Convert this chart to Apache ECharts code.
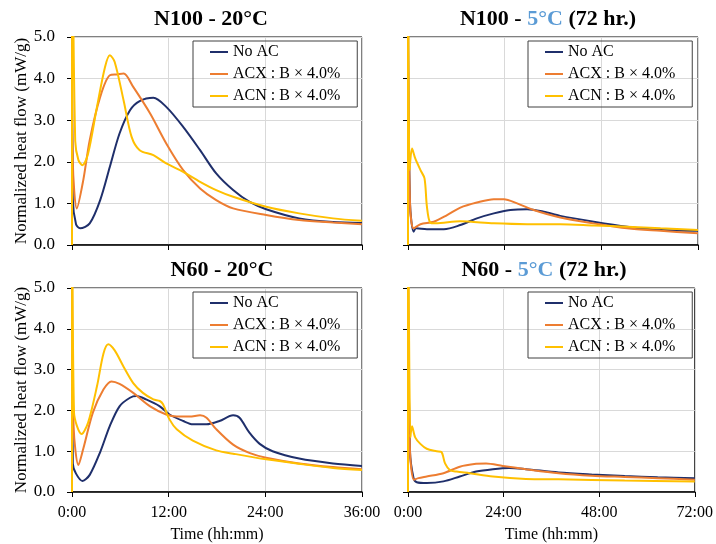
<!DOCTYPE html>
<html lang="en">
<head>
<meta charset="UTF-8">
<title>Normalized heat flow</title>
<style>
  html, body { margin: 0; padding: 0; background: #fff; }
  #main { width: 716px; height: 544px; }
</style>
</head>
<body>
<div id="main"></div>
<script src="https://cdn.jsdelivr.net/npm/echarts@6/dist/echarts.min.js"></script>
<script>
// series names and colours
var seriesNames = ['No AC', 'ACX : B \u00d7 4.0%', 'ACN : B \u00d7 4.0%'];
var seriesColors = ['#1f2f6b', '#ed7d31', '#ffc000'];
var panelTitles = ['N100 - 20\u00b0C', 'N100 - {b|5\u00b0C} (72 hr.)', 'N60 - 20\u00b0C', 'N60 - {b|5\u00b0C} (72 hr.)'];
var xMaxHours = [36, 72, 36, 72];
var xStepHours = [12, 24, 12, 24];
var yTicks = [0, 1, 2, 3, 4, 5];

// N100 - 20°C
var n100w_noac_t = [0, 0.1, 0.5, 1.0, 2.2, 3.5, 4.7, 5.9, 7.2, 8.4, 10.1, 11.7, 13.8, 15.9, 17.9, 20.0, 22.0, 24.1, 28.2, 32.4, 36];
var n100w_noac_v = [5.5, 1.1, 0.5, 0.40, 0.52, 1.08, 1.88, 2.68, 3.24, 3.46, 3.54, 3.32, 2.84, 2.28, 1.72, 1.32, 1.04, 0.86, 0.64, 0.55, 0.53];
var n100w_acx_t = [0, 0.1, 0.6, 1.4, 2.2, 3.5, 4.7, 5.6, 6.4, 7.6, 9.7, 11.7, 13.8, 15.9, 17.9, 20.0, 24.1, 28.2, 32.4, 36];
var n100w_acx_v = [5.5, 2.0, 0.88, 1.56, 2.52, 3.56, 4.08, 4.10, 4.12, 3.80, 3.16, 2.44, 1.80, 1.36, 1.08, 0.88, 0.72, 0.60, 0.54, 0.50];
var n100w_acn_t = [0, 0.02, 0.4, 0.8, 1.3, 2.0, 3.1, 4.1, 4.7, 5.3, 6.4, 7.4, 8.4, 10.1, 11.7, 13.8, 15.9, 17.9, 20.0, 24.1, 28.2, 32.4, 36];
var n100w_acn_v = [0, 8, 2.5, 2.04, 1.92, 2.2, 3.32, 4.28, 4.56, 4.40, 3.48, 2.60, 2.28, 2.16, 1.96, 1.76, 1.52, 1.32, 1.16, 0.92, 0.76, 0.64, 0.58];

// N100 - 5°C
var n100c_noac_t = [0, 0.5, 1.4, 2.0, 4.7, 8.9, 13, 17.1, 21.3, 25.4, 29.6, 33.7, 37.8, 46.1, 54.4, 62.7, 72];
var n100c_noac_v = [5.5, 1.0, 0.32, 0.40, 0.38, 0.38, 0.48, 0.64, 0.76, 0.84, 0.86, 0.80, 0.70, 0.56, 0.44, 0.36, 0.34];
var n100c_acx_t = [0, 0.5, 1.4, 3.1, 6.4, 9.7, 13, 17.1, 21.3, 23.8, 27.1, 31.2, 37.8, 46.1, 54.4, 62.7, 72];
var n100c_acx_v = [5.5, 1.0, 0.40, 0.50, 0.56, 0.72, 0.90, 1.02, 1.10, 1.10, 1.00, 0.84, 0.66, 0.52, 0.40, 0.34, 0.28];
var n100c_acn_t = [0, 0.02, 0.4, 1.0, 1.8, 3.1, 4.1, 4.7, 5.5, 6.8, 13, 21.3, 29.6, 37.8, 46.1, 54.4, 62.7, 72];
var n100c_acn_v = [0, 8, 1.8, 2.32, 2.08, 1.80, 1.60, 0.92, 0.54, 0.52, 0.57, 0.52, 0.50, 0.50, 0.47, 0.44, 0.40, 0.36];

// N60 - 20°C
var n60w_noac_t = [0, 0.1, 0.5, 1.3, 2.2, 3.5, 4.7, 5.9, 7.2, 8.0, 9.2, 10.9, 12.1, 13.8, 15.0, 16.7, 18.3, 20.0, 20.8, 22.0, 23.3, 24.9, 28.2, 32.4, 36];
var n60w_noac_v = [5.5, 0.7, 0.45, 0.27, 0.42, 0.98, 1.62, 2.10, 2.31, 2.35, 2.27, 2.10, 1.90, 1.74, 1.66, 1.66, 1.74, 1.88, 1.82, 1.46, 1.18, 1.00, 0.82, 0.70, 0.64];
var n60w_acx_t = [0, 0.2, 0.8, 1.4, 2.6, 3.9, 4.9, 5.9, 7.6, 9.7, 11.7, 13.0, 14.6, 15.9, 16.7, 17.9, 20.0, 22.0, 24.1, 28.2, 32.4, 36];
var n60w_acx_v = [5.5, 1.6, 0.66, 1.06, 1.95, 2.51, 2.71, 2.65, 2.43, 2.10, 1.90, 1.85, 1.85, 1.88, 1.82, 1.54, 1.16, 0.96, 0.84, 0.70, 0.61, 0.56];
var n60w_acn_t = [0, 0.02, 0.25, 1.2, 2.0, 3.1, 3.9, 4.5, 5.3, 6.4, 7.6, 8.8, 10.1, 10.9, 11.3, 12.1, 13.0, 15.0, 17.9, 20.0, 24.1, 28.2, 32.4, 36];
var n60w_acn_v = [0, 8, 1.95, 1.42, 1.70, 2.59, 3.39, 3.62, 3.47, 3.07, 2.67, 2.43, 2.27, 2.23, 2.15, 1.78, 1.54, 1.26, 1.02, 0.94, 0.80, 0.69, 0.59, 0.54];

// N60 - 5°C
var n60c_noac_t = [0, 0.5, 1.4, 2.2, 4.7, 8.9, 13, 17.1, 21.3, 25.4, 29.6, 37.8, 46.1, 54.4, 62.7, 72];
var n60c_noac_v = [5.5, 1.0, 0.34, 0.24, 0.22, 0.26, 0.38, 0.50, 0.56, 0.59, 0.56, 0.48, 0.43, 0.39, 0.36, 0.34];
var n60c_acx_t = [0, 0.5, 1.5, 2.6, 4.7, 8.9, 13, 17.1, 19.6, 23.8, 29.6, 37.8, 46.1, 54.4, 62.7, 72];
var n60c_acx_v = [5.5, 1.0, 0.30, 0.34, 0.38, 0.46, 0.62, 0.69, 0.70, 0.64, 0.56, 0.46, 0.40, 0.37, 0.34, 0.30];
var n60c_acn_t = [0, 0.02, 0.6, 1.0, 1.8, 3.1, 4.7, 7.2, 8.4, 9.3, 10.5, 12.2, 15.5, 21.3, 29.6, 37.8, 54.4, 72];
var n60c_acn_v = [0, 8, 1.34, 1.61, 1.34, 1.18, 1.06, 1.00, 0.98, 0.70, 0.54, 0.50, 0.46, 0.38, 0.32, 0.31, 0.28, 0.26];

var panels = [
  [[n100w_noac_t, n100w_noac_v], [n100w_acx_t, n100w_acx_v], [n100w_acn_t, n100w_acn_v]],
  [[n100c_noac_t, n100c_noac_v], [n100c_acx_t, n100c_acx_v], [n100c_acn_t, n100c_acn_v]],
  [[n60w_noac_t, n60w_noac_v], [n60w_acx_t, n60w_acx_v], [n60w_acn_t, n60w_acn_v]],
  [[n60c_noac_t, n60c_noac_v], [n60c_acx_t, n60c_acx_v], [n60c_acn_t, n60c_acn_v]]
];

var serif = "'Liberation Serif', 'Times New Roman', serif";
var gridPos = [
  { left: 72, top: 37, width: 290, height: 208 },
  { left: 408, top: 37, width: 290, height: 208 },
  { left: 72, top: 288, width: 290, height: 208 },
  { left: 408, top: 288, width: 290, height: 208 }
];
// title centres differ a little from the plot centres in the original
var titleCenters = [211, 548, 222, 544];

var grids = [], xAxes = [], yAxes = [], titles = [], legends = [], series = [];

gridPos.forEach(function (g, i) {
  var isLeft = i % 2 === 0;
  var isBottom = i >= 2;
  grids.push({
    left: g.left, top: g.top, width: g.width, height: g.height,
    show: true, borderColor: '#000', borderWidth: 1
  });
  xAxes.push({
    type: 'value', gridIndex: i, min: 0, max: xMaxHours[i], interval: xStepHours[i],
    name: isBottom ? 'Time (hh:mm)' : '',
    nameLocation: 'middle', nameGap: 35,
    nameTextStyle: { fontFamily: serif, fontSize: 16, color: '#000' },
    axisLine: { lineStyle: { color: '#000', width: 1.5 } },
    axisTick: { show: true, length: 5, lineStyle: { color: '#000' } },
    axisLabel: {
      show: isBottom, margin: 13, fontFamily: serif, fontSize: 16, color: '#000',
      formatter: function (v) { return Math.round(v) + ':00'; }
    },
    splitLine: { lineStyle: { color: '#d9d9d9', width: 1 } }
  });
  yAxes.push({
    type: 'value', gridIndex: i, min: yTicks[0], max: yTicks[yTicks.length - 1], interval: 1,
    name: isLeft ? 'Normalized heat flow (mW/g)' : '',
    nameLocation: 'middle', nameGap: 40,
    nameTextStyle: { fontFamily: serif, fontSize: 17, color: '#000' },
    axisLine: { show: true, lineStyle: { color: '#000', width: 1.5 } },
    axisTick: { show: true, length: 5, lineStyle: { color: '#000' } },
    axisLabel: {
      show: isLeft, margin: 17, fontFamily: serif, fontSize: 17, color: '#000',
      formatter: function (v) { return v.toFixed(1); }
    },
    splitLine: { lineStyle: { color: '#d9d9d9', width: 1 } }
  });
  titles.push({
    text: panelTitles[i],
    left: titleCenters[i], top: g.top - 29, textAlign: 'center', padding: 0,
    textStyle: {
      fontFamily: serif, fontSize: 22, fontWeight: 'bold', color: '#000',
      rich: { b: { fontFamily: serif, fontSize: 22, fontWeight: 'bold', color: '#5b9bd5' } }
    }
  });
  legends.push({
    data: seriesNames, orient: 'vertical',
    left: isLeft ? 193 : 528, top: g.top + 4,
    borderColor: '#404040', borderWidth: 1, padding: [3, 17, 3, 17],
    icon: 'rect', itemWidth: 18, itemHeight: 2, itemGap: 6,
    textStyle: { fontFamily: serif, fontSize: 16, color: '#000' }
  });
  panels[i].forEach(function (s, k) {
    var pts = s[0].map(function (t, j) { return [t, s[1][j]]; });
    series.push({
      name: seriesNames[k], type: 'line', xAxisIndex: i, yAxisIndex: i,
      data: pts, symbol: 'none', smooth: 0.3, clip: true,
      color: seriesColors[k],
      lineStyle: { width: 2, color: seriesColors[k] }
    });
  });
});

var myChart = echarts.init(document.getElementById('main'));
myChart.setOption({
  animation: false,
  backgroundColor: '#fff',
  title: titles,
  legend: legends,
  grid: grids,
  xAxis: xAxes,
  yAxis: yAxes,
  series: series
});
</script>
</body>
</html>
